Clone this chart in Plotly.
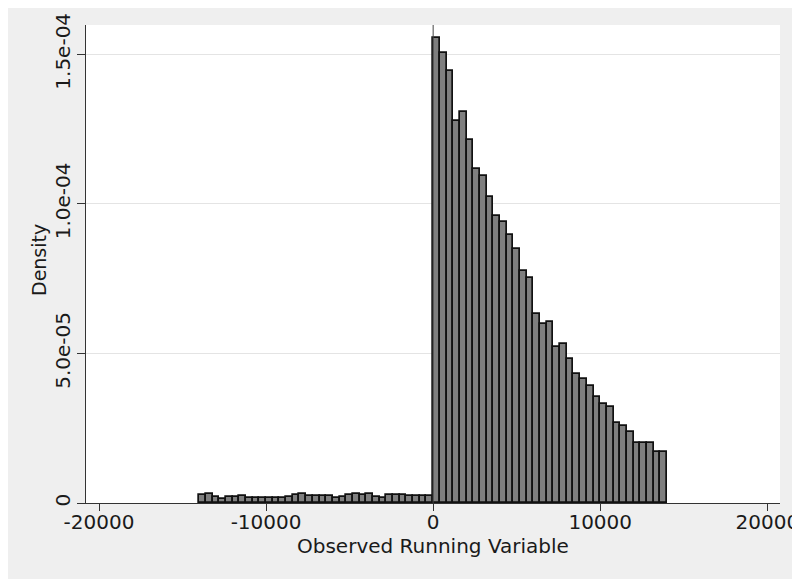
import plotly.graph_objects as go

# Histogram bins (width 400) from -14000 to 14000
bin_start = -14000
bin_width = 400

# Densities left of the cutoff (35 bins, -14000..0)
density_left = [2.6e-6, 3.1e-6, 2.0e-6, 1.5e-6, 2.0e-6, 2.0e-6, 2.2e-6, 1.7e-6, 1.7e-6, 1.7e-6,
                1.7e-6, 1.7e-6, 1.7e-6, 2.0e-6, 2.6e-6, 2.9e-6, 2.45e-6, 2.45e-6, 2.2e-6, 2.2e-6,
                1.7e-6, 1.9e-6, 2.7e-6, 3.1e-6, 2.7e-6, 3.1e-6, 2.0e-6, 1.7e-6, 2.8e-6, 2.8e-6,
                2.8e-6, 2.45e-6, 2.45e-6, 2.45e-6, 2.45e-6]

# Densities right of the cutoff (35 bins, 0..14000)
density_right = [1.554e-4, 1.503e-4, 1.444e-4, 1.276e-4, 1.306e-4, 1.212e-4, 1.116e-4, 1.092e-4,
                 1.022e-4, 0.961e-4, 0.938e-4, 0.895e-4, 0.850e-4, 0.776e-4, 0.753e-4, 0.632e-4,
                 0.600e-4, 0.606e-4, 0.523e-4, 0.533e-4, 0.482e-4, 0.432e-4, 0.415e-4, 0.391e-4,
                 0.354e-4, 0.330e-4, 0.321e-4, 0.269e-4, 0.259e-4, 0.238e-4, 0.202e-4, 0.202e-4,
                 0.202e-4, 0.172e-4, 0.172e-4]

densities = density_left + density_right
bin_centers = [bin_start + bin_width * (i + 0.5) for i in range(len(densities))]

x_tickvals = [-20000, -10000, 0, 10000, 20000]
x_ticktext = ["-20000", "-10000", "0", "10000", "20000"]
y_tickvals = [0, 5e-5, 1e-4, 1.5e-4]
y_ticktext = ["0", "5.0e-05", "1.0e-04", "1.5e-04"]

FONT = "DejaVu Sans"
TXT = "#1a1a1a"
W, H = 800, 579
ML, MR, MT, MB = 78, 28, 17, 84

fig = go.Figure()
fig.add_trace(go.Bar(
    x=bin_centers, y=densities, width=bin_width,
    marker=dict(color="#7f7f7f", line=dict(color="#111111", width=1.7)),
    hoverinfo="x+y",
))

fig.add_vline(x=0, line=dict(color="#444444", width=1))

fig.add_annotation(text="Observed Running Variable", xref="paper", yref="paper",
                   x=0.5, y=0, xanchor="center", yanchor="middle", yshift=-43,
                   showarrow=False, font=dict(family=FONT, size=20, color=TXT))
fig.add_annotation(text="Density", xref="paper", yref="paper",
                   x=0, y=0.5, xanchor="center", yanchor="middle", xshift=-47, yshift=4,
                   textangle=-90, showarrow=False, font=dict(family=FONT, size=19, color=TXT))

fig.update_layout(
    width=W, height=H,
    margin=dict(l=ML, r=MR, t=MT, b=MB, autoexpand=False),
    paper_bgcolor="#efefef",
    plot_bgcolor="white",
    bargap=0,
    showlegend=False,
    font=dict(family=FONT, size=20, color=TXT),
    xaxis=dict(
        range=[-20778, 20760], tickvals=x_tickvals, ticktext=x_ticktext,
        showgrid=False, zeroline=False, showline=True, linecolor="#333333", linewidth=1,
        ticks="outside", ticklen=7, tickcolor="#333333", tickwidth=1,
        tickfont=dict(family=FONT, size=20, color=TXT), ticklabelstandoff=-6,
        automargin=False,
    ),
    yaxis=dict(
        range=[0, 1.598e-4], tickvals=y_tickvals, ticktext=y_ticktext, tickangle=-90,
        showgrid=True, gridcolor="#e4e4e4", gridwidth=1.2,
        zeroline=False, showline=True, linecolor="#333333", linewidth=1,
        ticks="outside", ticklen=8, tickcolor="#333333", tickwidth=1,
        tickfont=dict(family=FONT, size=20, color=TXT), ticklabelstandoff=-1,
        automargin=False,
    ),
)

fig.write_html("out.html")
